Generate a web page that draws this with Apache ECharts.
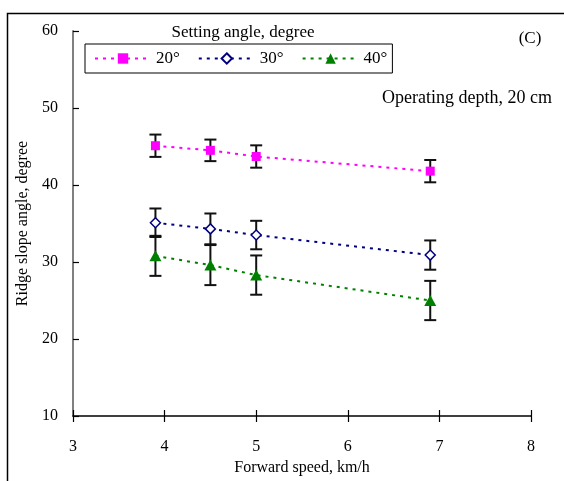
<!DOCTYPE html>
<html>
<head>
<meta charset="utf-8">
<script src="https://cdn.jsdelivr.net/npm/echarts@6/dist/echarts.min.js"></script>
<style>
html,body{margin:0;padding:0;background:#fff;}
#c{width:564px;height:481px;}
</style>
</head>
<body>
<div id="c"></div>
<script>
const speeds = [3.9, 4.5, 5.0, 6.9];
const seriesNames = ['20°', '30°', '40°'];
const angle20 = [45.1, 44.5, 43.7, 41.8];
const angle30 = [35.1, 34.3, 33.5, 30.9];
const angle40 = [30.8, 29.6, 28.3, 25.0];
const sd20 = [1.45, 1.4, 1.45, 1.45];
const sd30 = [1.85, 2.0, 1.85, 1.9];
const sd40 = [2.6, 2.6, 2.55, 2.55];
const xTicks = [3, 4, 5, 6, 7, 8];
const yTicks = [10, 20, 30, 40, 50, 60];

const FONT = '"Liberation Serif", "DejaVu Serif", serif';
const colors = ['#FF00FF', '#000080', '#008000'];
const symbols = ['rect', 'diamond', 'triangle'];
const values = [angle20, angle30, angle40];
const sds = [sd20, sd30, sd40];

const chart = echarts.init(document.getElementById('c'), null, {renderer: 'canvas'});

const series = [];
values.forEach((vals, i) => {
  series.push({
    name: 'err ' + seriesNames[i],
    type: 'custom',
    z: 1,
    silent: true,
    data: vals.map((v, j) => [speeds[j], v - sds[i][j], v + sds[i][j]]),
    renderItem: function (params, api) {
      const x = api.value(0);
      const lo = api.coord([x, api.value(1)]);
      const hi = api.coord([x, api.value(2)]);
      const cap = 6;
      const st = {stroke: '#111', lineWidth: 2};
      return {
        type: 'group',
        children: [
          {type: 'line', shape: {x1: lo[0], y1: lo[1], x2: hi[0], y2: hi[1]}, style: st},
          {type: 'line', shape: {x1: lo[0] - cap, y1: lo[1], x2: lo[0] + cap, y2: lo[1]}, style: st},
          {type: 'line', shape: {x1: hi[0] - cap, y1: hi[1], x2: hi[0] + cap, y2: hi[1]}, style: st}
        ]
      };
    }
  });
});
values.forEach((vals, i) => {
  series.push({
    name: seriesNames[i],
    type: 'line',
    z: 3,
    data: vals.map((v, j) => [speeds[j], v]),
    symbol: symbols[i],
    symbolSize: i === 2 ? [12, 11] : (i === 1 ? 10 : 9),
    symbolKeepAspect: true,
    showAllSymbol: true,
    lineStyle: {color: colors[i], width: 2, type: [3, 5]},
    itemStyle: i === 1
      ? {color: '#fff', borderColor: colors[i], borderWidth: 1.5}
      : {color: colors[i], borderColor: colors[i], borderWidth: 0},
    emphasis: {disabled: true},
    animation: false
  });
});

const option = {
  animation: false,
  backgroundColor: '#fff',
  grid: {left: 73, right: 33, top: 31, bottom: 63, containLabel: false},
  title: [
    {text: 'Setting angle, degree', left: 238, top: 19, textAlign: 'center',
     textStyle: {fontFamily: FONT, fontSize: 17, fontWeight: 'normal', color: '#000'}},
    {text: '(C)', left: 525, top: 25, textAlign: 'center',
     textStyle: {fontFamily: FONT, fontSize: 17, fontWeight: 'normal', color: '#000'}},
    {text: 'Operating depth, 20 cm', left: 377, top: 84,
     textStyle: {fontFamily: FONT, fontSize: 18, fontWeight: 'normal', color: '#000'}}
  ],
  legend: {
    data: seriesNames,
    left: 85, top: 44,
    orient: 'horizontal',
    itemWidth: 56, itemHeight: 13,
    itemGap: 18,
    padding: [6, 5, 6, 9],
    borderColor: '#000', borderWidth: 1,
    textStyle: {fontFamily: FONT, fontSize: 17, color: '#000'},
    selectedMode: false
  },
  xAxis: [{
    type: 'value', min: 3, max: 8, interval: 1,
    name: 'Forward speed, km/h', nameLocation: 'middle', nameGap: 44,
    nameTextStyle: {fontFamily: FONT, fontSize: 16, color: '#000'},
    axisLine: {lineStyle: {color: '#000', width: 1.5}},
    axisTick: {show: true, inside: false, length: 6, lineStyle: {color: '#000', width: 1.2}},
    axisLabel: {fontFamily: FONT, fontSize: 16, color: '#000', margin: 23,
      formatter: v => xTicks.includes(v) ? String(v) : ''},
    splitLine: {show: false}
  }, {
    type: 'value', min: 3, max: 8, interval: 1, position: 'bottom',
    axisLine: {show: false},
    axisTick: {show: true, inside: true, length: 6, lineStyle: {color: '#000', width: 1.2}},
    axisLabel: {show: false},
    splitLine: {show: false}
  }],
  yAxis: {
    type: 'value', min: 10, max: 60, interval: 10,
    name: 'Ridge slope angle, degree', nameLocation: 'middle', nameGap: 40, nameRotate: 90,
    nameTextStyle: {fontFamily: FONT, fontSize: 16, color: '#000'},
    axisLine: {show: true, lineStyle: {color: '#808080', width: 2}},
    axisTick: {show: true, inside: true, length: 6, lineStyle: {color: '#000', width: 1.2}},
    axisLabel: {fontFamily: FONT, fontSize: 16, color: '#000', margin: 15,
      formatter: v => yTicks.includes(v) ? String(v) : ''},
    splitLine: {show: false}
  },
  graphic: [
    {type: 'polyline', z: 100, silent: true,
     shape: {points: [[7.5, 481], [7.5, 13.5], [564, 13.5]]},
     style: {stroke: '#000', lineWidth: 1.5, fill: null}}
  ],
  series: series
};
chart.setOption(option);
</script>
</body>
</html>
